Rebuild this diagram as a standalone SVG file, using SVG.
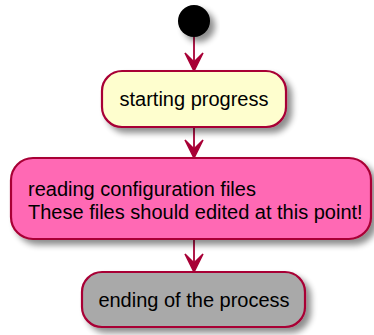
<svg xmlns="http://www.w3.org/2000/svg" width="374" height="335" viewBox="0 0 374 335">
<style>
.node{stroke:#A80036;stroke-width:2.2}
.lbl{font-family:"Liberation Sans",Arial,sans-serif;font-size:20px;fill:#000}
.edge{stroke:#A80036;stroke-width:1.8;fill:none}
.head{fill:#A80036;stroke:#A80036;stroke-width:1.5}
</style>
<defs>
<filter id="sh" x="-20%" y="-20%" width="150%" height="160%">
<feGaussianBlur in="SourceAlpha" stdDeviation="3"/>
<feOffset dx="5" dy="5" result="b"/>
<feComponentTransfer><feFuncA type="linear" slope="0.45"/></feComponentTransfer>
<feMerge><feMergeNode/><feMergeNode in="SourceGraphic"/></feMerge>
</filter>
</defs>
<rect width="374" height="335" fill="#fff"/>
<g id="connectors">
<line class="edge" x1="194" y1="37" x2="194" y2="69"/>
<polygon class="head" points="185,53 194,71 203,53 194,62"/>
<line class="edge" x1="194" y1="127" x2="194" y2="156"/>
<polygon class="head" points="185,140 194,158 203,140 194,149"/>
<line class="edge" x1="194" y1="240" x2="194" y2="270"/>
<polygon class="head" points="185,254 194,272 203,254 194,263"/>
</g>
<g id="start">
<circle cx="194" cy="21" r="16" fill="#000" filter="url(#sh)"/>
</g>
<g id="n1">
<rect class="node" x="102" y="71" width="184" height="56" rx="20" fill="#FEFECE" filter="url(#sh)"/>
<text class="lbl" x="194" y="106" text-anchor="middle">starting progress</text>
</g>
<g id="n2">
<rect class="node" x="11" y="158" width="360" height="81" rx="22" fill="#FF69B4" filter="url(#sh)"/>
<text class="lbl" x="28" y="196">reading configuration files</text>
<text class="lbl" x="28" y="219">These files should edited at this point!</text>
</g>
<g id="n3">
<rect class="node" x="82" y="272" width="223" height="55" rx="20" fill="#A9A9A9" filter="url(#sh)"/>
<text class="lbl" x="194" y="307" text-anchor="middle">ending of the process</text>
</g>
</svg>
